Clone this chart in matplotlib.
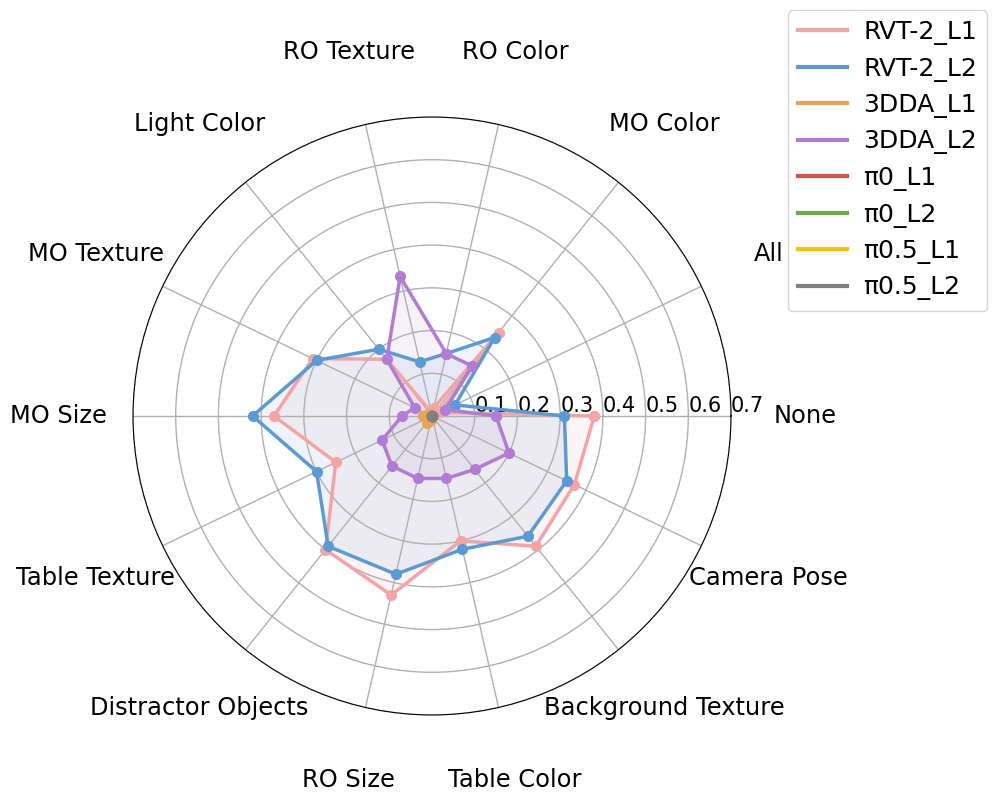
import numpy as np
import matplotlib
matplotlib.use("Agg")
import matplotlib.pyplot as plt

plt.rcParams['font.family'] = ['DejaVu Sans']

categories = ["None", "Camera Pose", "Background Texture", "Table Color", "RO Size",
              "Distractor Objects", "Table Texture", "MO Size", "MO Texture",
              "Light Color", "RO Texture", "RO Color", "MO Color", "All"]

rvt2_l1 = [0.38, 0.37, 0.39, 0.30, 0.43, 0.40, 0.25, 0.37, 0.31, 0.17, 0.01, 0.02, 0.25, 0.02]
rvt2_l2 = [0.31, 0.35, 0.36, 0.32, 0.38, 0.39, 0.30, 0.42, 0.30, 0.20, 0.13, 0.15, 0.235, 0.06]
dda_l1 = [0.0, 0.0, 0.0, 0.0, 0.01, 0.02, 0.01, 0.02, 0.01, 0.0, 0.0, 0.0, 0.0, 0.0]
dda_l2 = [0.15, 0.20, 0.16, 0.15, 0.15, 0.15, 0.13, 0.07, 0.045, 0.17, 0.335, 0.15, 0.15, 0.035]
pi0_l1 = [0.0] * 14
pi0_l2 = [0.0] * 14
pi05_l1 = [0.0] * 14
pi05_l2 = [0.0] * 14

series_names = ["RVT-2_L1", "RVT-2_L2", "3DDA_L1", "3DDA_L2", "π0_L1", "π0_L2", "π0.5_L1", "π0.5_L2"]
series_values = [rvt2_l1, rvt2_l2, dda_l1, dda_l2, pi0_l1, pi0_l2, pi05_l1, pi05_l2]
colors = ["#F4A4A4", "#5B9BD5", "#E8A55A", "#B07CD4", "#D9534F", "#6AAB4A", "#FFC000", "#808080"]

r_ticks = [0.1, 0.2, 0.3, 0.4, 0.5, 0.6, 0.7]

fig = plt.figure(figsize=(9.97, 8.01), dpi=100)
ax = fig.add_axes([133 / 997, 86 / 801, 598 / 997, 598 / 801], projection='polar')

n = len(categories)
angles = np.linspace(0, 2 * np.pi, n, endpoint=False)
angles_closed = np.concatenate([angles, angles[:1]])

ax.set_theta_offset(0)
ax.set_theta_direction(-1)

for name, vals, c in zip(series_names, series_values, colors):
    v = np.concatenate([vals, vals[:1]])
    ax.plot(angles_closed, v, color=c, linewidth=2.5, marker='o', markersize=7, label=name)
    ax.fill(angles_closed, v, color=c, alpha=0.1)

ax.set_ylim(0, 0.7)
ax.set_yticks(r_ticks)
ax.set_yticklabels([f"{t:.1f}" for t in r_ticks], fontsize=15)
ax.set_rlabel_position(0)
ax.set_xticks(angles)
ax.set_xticklabels(categories, fontsize=17.4)
ax.tick_params(axis='x', pad=43)
ax.grid(True, color='#b0b0b0', linewidth=1)

leg = fig.legend(loc='upper right', bbox_to_anchor=(987 / 997, 1 - 10 / 801),
                 borderaxespad=0, fontsize=18, labelspacing=0.46, handlelength=1.95,
                 handletextpad=0.65)
for line in leg.get_lines():
    line.set_linewidth(3)
    line.set_marker('')

fig.savefig("out.png", dpi=100)
